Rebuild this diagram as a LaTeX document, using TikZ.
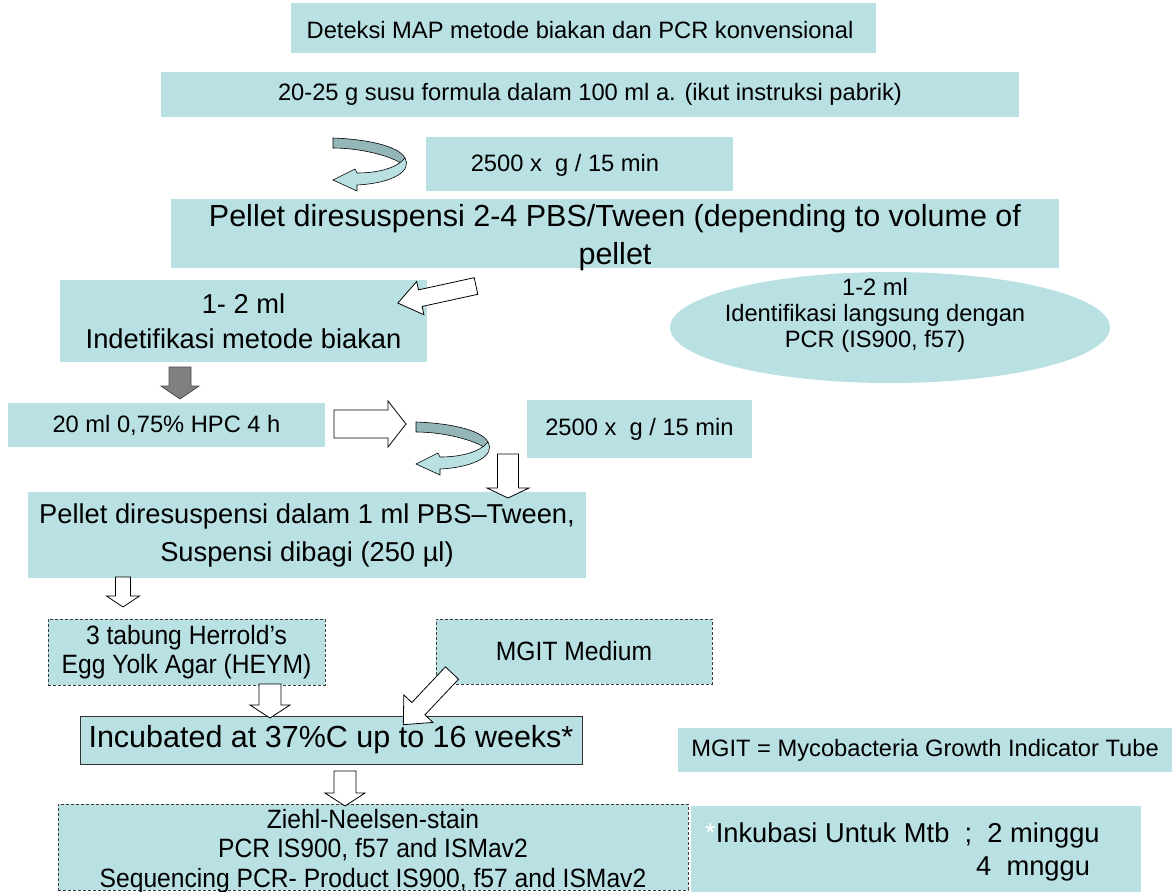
\documentclass[tikz,border=0pt]{standalone}
\usepackage{fontspec}
\setmainfont{Liberation Sans}
\newfontfamily\narrowfont[FakeStretch=0.93]{Liberation Sans}
\usetikzlibrary{shapes.geometric}
\definecolor{boxfill}{RGB}{185,224,227}
\definecolor{ribdark}{RGB}{148,182,184}
\definecolor{arrgray}{RGB}{128,128,128}
\definecolor{dashcol}{RGB}{60,60,60}
\tikzset{
 fsmall/.style={font=\fontsize{23.7}{27}\selectfont},
 fmed/.style={font=\fontsize{27.3}{35}\selectfont},
 flarge/.style={font=\fontsize{30.5}{38}\selectfont},
 fnarrow/.style={font=\narrowfont\fontsize{26.5}{29.5}\selectfont},
 tbox/.style={fill=boxfill, draw=none, inner sep=0pt, align=center, text=black},
 dbox/.style={tbox, draw=dashcol, dash pattern=on 3pt off 2pt, line width=0.8pt},
 sbox/.style={tbox, draw=black!80, line width=1pt},
 harrow/.style={draw=black, fill=white, line width=0.8pt, line join=miter},
 garrow/.style={draw=black!70, fill=arrgray, line width=0.8pt, line join=miter},
 curvarrow/.pic={
  \filldraw[fill=ribdark, draw=black, line width=0.6pt]
    (0,1) .. controls (30,2) and (65,8) .. (72,21) -- (69,27)
    .. controls (60,20) and (30,11) .. (0,11) -- cycle;
  \filldraw[fill=boxfill, draw=black, line width=0.6pt]
    (72,21) .. controls (79,33) and (62,46) .. (24,48) -- (24,54) -- (0,43)
    -- (22,32) -- (24,36) .. controls (45,36) and (64,31) .. (72,21) -- cycle;
 }
}
% #1 style, #2 #3 tail, #4 angle, #5 length, #6 shaft half width, #7 head half width, #8 head length
\newcommand{\blockarr}[8]{\draw[#1, shift={(#2,#3)}, rotate=#4]
  (0,-#6) -- (#5-#8,-#6) -- (#5-#8,-#7) -- (#5,0) -- (#5-#8,#7) -- (#5-#8,#6) -- (0,#6) -- cycle;}
\begin{document}
\begin{tikzpicture}[x=1pt,y=-1pt]
\useasboundingbox (0,0) rectangle (1176,892);
% boxes
\node[tbox, minimum width=585pt, minimum height=50pt] (b1) at (583.5,28) {};
\node[fsmall, inner sep=0pt] (t1) at (580,30) {Deteksi MAP metode biakan dan PCR konvensional};
\node[tbox, fsmall, minimum width=858pt, minimum height=45pt] (b2) at (590,94.5) {20-25 g susu formula dalam 100 ml a. (ikut instruksi pabrik)};
\node[tbox, minimum width=307pt, minimum height=54pt] (b3) at (579.5,164) {};
\node[fsmall, inner sep=0pt] (t3) at (565,165) {2500 x\ \ g / 15 min};
\node[tbox, minimum width=888pt, minimum height=69pt] (b4) at (615,233.5) {};
\node[flarge, align=center, inner sep=0pt] (t4) at (615,238) {Pellet diresuspensi 2-4 PBS/Tween (depending to volume of\\pellet};
\node[tbox, fmed, minimum width=367pt, minimum height=82pt] (b5) at (243.5,321) {1- 2 ml\\Indetifikasi metode biakan};
\node[ellipse, fill=boxfill, minimum width=440pt, minimum height=111pt, inner sep=0pt] (e1) at (890,327.5) {};
\node[font=\fontsize{23.7}{26}\selectfont, align=center, inner sep=0pt] (te1) at (875,315) {1-2 ml\\Identifikasi langsung dengan\\PCR (IS900, f57)};
\node[tbox, fsmall, minimum width=317pt, minimum height=44pt] (b6) at (166.5,425) {20 ml 0,75\% HPC 4 h};
\node[tbox, fsmall, minimum width=225pt, minimum height=58pt] (b7) at (639.5,429) {2500 x\ \ g / 15 min};
\node[tbox, font=\fontsize{27.3}{38}\selectfont, minimum width=558pt, minimum height=86pt] (b8) at (307,535) {Pellet diresuspensi dalam 1 ml PBS–Tween,\\Suspensi dibagi (250 µl)};
\node[dbox, fnarrow, minimum width=277pt, minimum height=66pt] (b9) at (186.5,652) {3 tabung Herrold’s\\Egg Yolk Agar (HEYM)};
\node[dbox, fnarrow, minimum width=276pt, minimum height=65pt] (b10) at (574,651.5) {MGIT Medium};
\node[sbox, flarge, minimum width=502pt, minimum height=48pt] (b11) at (331,740) {Incubated at 37\%C up to 16 weeks*};
\node[tbox, fsmall, minimum width=494pt, minimum height=44pt] (b12) at (925,750) {MGIT = Mycobacteria Growth Indicator Tube};
\node[dbox, minimum width=630pt, minimum height=86pt] (b13) at (373,847) {};
\node[fnarrow, align=center, inner sep=0pt] (t13) at (373,851) {Ziehl-Neelsen-stain\\PCR IS900, f57 and ISMav2\\Sequencing PCR- Product IS900, f57 and ISMav2};
\node[tbox, minimum width=450pt, minimum height=86pt] (b14) at (916,849) {};
\node[fmed, anchor=base west, inner sep=0pt] (t14a) at (705,842) {{\color{white}*}Inkubasi Untuk Mtb\ \ ;\ \ 2 minggu};
\node[fmed, anchor=base west, inner sep=0pt] (t14b) at (976,875) {4\ \ mnggu};
% curved arrows
\pic at (333,137) {curvarrow};
\pic at (416,421) {curvarrow};
% block arrows
\blockarr{harrow}{476}{286}{192.3}{80}{8.5}{17}{23}
\blockarr{garrow}{180}{367}{-90}{32}{11}{19}{13}
\blockarr{harrow}{334}{424}{0}{72}{14}{23}{18}
\blockarr{harrow}{508}{454}{-90}{44}{10.5}{21}{10}
\blockarr{harrow}{123}{577}{-90}{30}{7.5}{16.5}{11}
\blockarr{harrow}{270}{684}{-90}{34}{11}{20}{13}
\blockarr{harrow}{452}{673}{226.7}{71}{9}{20}{22}
\blockarr{harrow}{345}{771}{-90}{35}{11}{20}{13}
\end{tikzpicture}
\end{document}
